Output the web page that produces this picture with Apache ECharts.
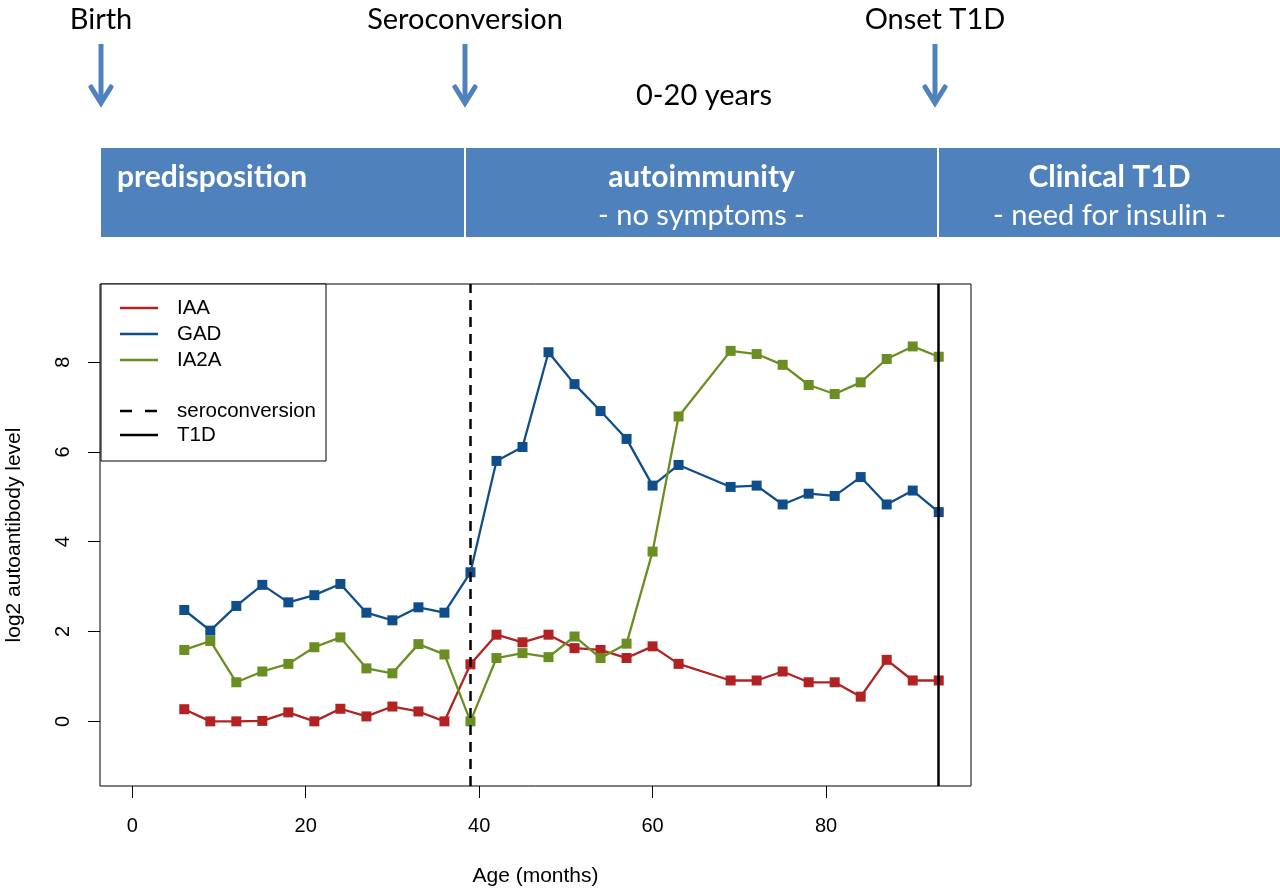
<!DOCTYPE html>
<html><head><meta charset="utf-8">
<script src="https://cdn.jsdelivr.net/npm/echarts@6/dist/echarts.min.js"></script>
<style>html,body{margin:0;padding:0;background:#fff}#c{width:1280px;height:890px}</style>
</head><body><div id="c"></div>
<script>
// ---- data ----
const ages = [6, 9, 12, 15, 18, 21, 24, 27, 30, 33, 36, 39, 42, 45, 48, 51, 54, 57, 60, 63, 69, 72, 75, 78, 81, 84, 87, 90, 93];
const iaa  = [0.27, 0.00, 0.00, 0.01, 0.20, 0.00, 0.28, 0.11, 0.33, 0.22, 0.00, 1.27, 1.93, 1.76, 1.93, 1.63, 1.59, 1.41, 1.67, 1.28, 0.91, 0.91, 1.11, 0.87, 0.87, 0.55, 1.37, 0.91, 0.91];
const gad  = [2.48, 2.02, 2.57, 3.04, 2.65, 2.81, 3.06, 2.42, 2.25, 2.54, 2.42, 3.32, 5.80, 6.11, 8.22, 7.51, 6.91, 6.29, 5.25, 5.71, 5.22, 5.25, 4.83, 5.07, 5.02, 5.44, 4.83, 5.14, 4.66];
const ia2a = [1.59, 1.79, 0.87, 1.11, 1.28, 1.65, 1.87, 1.18, 1.07, 1.72, 1.49, 0.00, 1.41, 1.52, 1.43, 1.89, 1.41, 1.73, 3.78, 6.79, 8.25, 8.18, 7.94, 7.49, 7.29, 7.55, 8.07, 8.35, 8.12];
const seriesNames = ['IAA', 'GAD', 'IA2A'];
const eventNames = ['seroconversion', 'T1D'];
const seroconversionAge = 39;
const t1dAge = 93;
const xTicks = [0, 20, 40, 60, 80];
const yTicks = [0, 2, 4, 6, 8];
const stageLabels = ['Birth', 'Seroconversion', 'Onset T1D'];
const phaseTitles = ['predisposition', 'autoimmunity', 'Clinical T1D'];
const phaseSubtitles = ['', '- no symptoms -', '- need for insulin -'];
const durationLabel = '0-20 years';
const xTitle = 'Age (months)';
const yTitle = 'log2 autoantibody level';

// ---- styles ----
const colors = ['#B22222', '#104E8B', '#6B8E23'];
const SANS = 'Liberation Sans, Arial, sans-serif';
const TOPF = 'Lato, Open Sans, sans-serif';
const BLUE = '#4F81BD';

const chart = echarts.init(document.getElementById('c'), null, {renderer: 'canvas'});

const values = [iaa, gad, ia2a];
const series = seriesNames.map((n, i) => ({
  name: n, type: 'line', z: 2 + i,
  data: ages.map((a, j) => [a, values[i][j]]),
  symbol: 'rect', symbolSize: 10,
  lineStyle: {color: colors[i], width: 2.3},
  itemStyle: {color: colors[i]},
  emphasis: {disabled: true},
  animation: false
}));
series.push({
  name: 'events', type: 'line', data: [], z: 10, animation: false,
  markLine: {
    silent: true, symbol: 'none', animation: false,
    label: {show: false},
    data: [
      {xAxis: seroconversionAge, lineStyle: {color: '#000', width: 2.5, type: [10, 7]}},
      {xAxis: t1dAge, lineStyle: {color: '#000', width: 2.5, type: 'solid'}}
    ]
  }
});

// ---- top diagram & legend (graphic) ----
const g = [];
const arrowX = [101, 465, 935];
stageLabels.forEach((t, i) => {
  g.push({type: 'text', x: arrowX[i], y: 20,
    style: {text: t, font: '29px ' + TOPF, fill: '#000', align: 'center', verticalAlign: 'middle'}});
  g.push({type: 'line', shape: {x1: arrowX[i], y1: 44, x2: arrowX[i], y2: 102},
    style: {stroke: BLUE, lineWidth: 5}});
  g.push({type: 'polyline', shape: {points: [[arrowX[i] - 10, 87], [arrowX[i], 103], [arrowX[i] + 10, 87]]},
    style: {stroke: BLUE, lineWidth: 5, fill: null, lineJoin: 'miter', lineCap: 'round'}});
});
g.push({type: 'text', x: 704, y: 96,
  style: {text: durationLabel, font: '29px ' + TOPF, fill: '#000', align: 'center', verticalAlign: 'middle'}});
const bands = [[101, 464], [466, 937], [939, 1280]];
bands.forEach((b, i) => {
  g.push({type: 'rect', shape: {x: b[0], y: 148, width: b[1] - b[0], height: 89}, style: {fill: BLUE}});
  const cx = i === 0 ? 117 : (b[0] + b[1]) / 2;
  g.push({type: 'text', x: cx, y: 177,
    style: {text: phaseTitles[i], font: 'bold 30px ' + TOPF, fill: '#fff', align: i === 0 ? 'left' : 'center', verticalAlign: 'middle'}});
  if (phaseSubtitles[i]) {
    g.push({type: 'text', x: cx, y: 216,
      style: {text: phaseSubtitles[i], font: '29px ' + TOPF, fill: '#fff', align: 'center', verticalAlign: 'middle'}});
  }
});
// legend box
g.push({type: 'rect', z: 20, shape: {x: 101, y: 284, width: 225, height: 177},
  style: {fill: '#fff', stroke: '#000', lineWidth: 1}});
const legRows = [308, 334, 360];
seriesNames.forEach((n, i) => {
  g.push({type: 'line', z: 21, shape: {x1: 120, y1: legRows[i], x2: 158, y2: legRows[i]},
    style: {stroke: colors[i], lineWidth: 2.3}});
  g.push({type: 'text', z: 21, x: 177, y: legRows[i],
    style: {text: n, font: '20.5px ' + SANS, fill: '#000', verticalAlign: 'middle'}});
});
const evRows = [411, 435];
eventNames.forEach((n, i) => {
  g.push({type: 'line', z: 21, shape: {x1: 120, y1: evRows[i], x2: 158, y2: evRows[i]},
    style: {stroke: '#000', lineWidth: 2.5, lineDash: i === 0 ? [12, 13] : null}});
  g.push({type: 'text', z: 21, x: 177, y: evRows[i],
    style: {text: n, font: '20.5px ' + SANS, fill: '#000', verticalAlign: 'middle'}});
});

chart.setOption({
  animation: false,
  backgroundColor: '#fff',
  grid: {left: 100, top: 284, right: 309, bottom: 104, show: true, borderColor: '#000', borderWidth: 1,
    backgroundColor: 'transparent', containLabel: false, outerBoundsMode: 'none'},
  xAxis: {
    type: 'value', min: -3.72, max: 96.72,
    splitLine: {show: false},
    axisLine: {show: false, onZero: false},
    axisTick: {show: true, length: 12, customValues: xTicks, lineStyle: {color: '#000', width: 1}},
    axisLabel: {customValues: xTicks, margin: 30, fontSize: 20, color: '#000', fontFamily: SANS},
    name: xTitle, nameLocation: 'middle', nameGap: 80,
    nameTextStyle: {fontSize: 21, color: '#000', fontFamily: SANS, verticalAlign: 'top'}
  },
  yAxis: {
    type: 'value', min: -1.44, max: 9.74,
    splitLine: {show: false},
    axisLine: {show: false, onZero: false},
    axisTick: {show: true, length: 12, customValues: yTicks, lineStyle: {color: '#000', width: 1}},
    axisLabel: {customValues: yTicks, rotate: 90, margin: 27, fontSize: 20, color: '#000', fontFamily: SANS},
    name: yTitle, nameLocation: 'middle', nameGap: 75, nameRotate: 90,
    nameTextStyle: {fontSize: 21, color: '#000', fontFamily: SANS}
  },
  series: series,
  graphic: {elements: g}
});
</script>
</body></html>
